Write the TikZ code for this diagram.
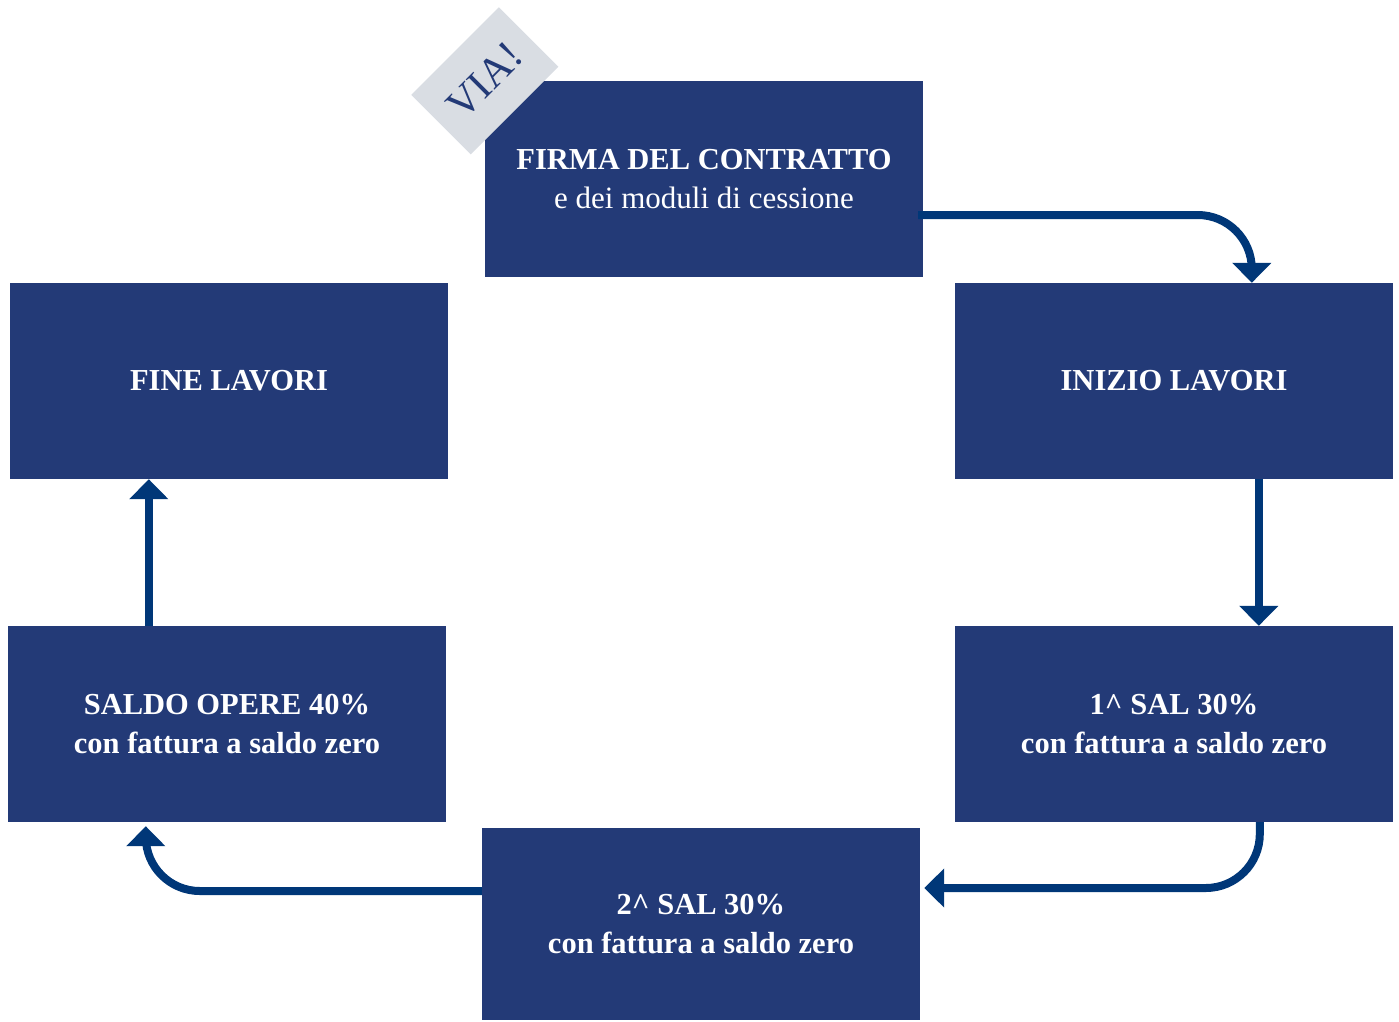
\documentclass[tikz,border=0pt]{standalone}
\usepackage{fontspec}
\setmainfont{Liberation Serif}
\usetikzlibrary{calc,arrows.meta}
\definecolor{boxblue}{HTML}{233A77}
\definecolor{arrblue}{HTML}{003778}
\definecolor{taggray}{HTML}{D9DDE3}
\tikzset{
  stepbox/.style={rectangle, fill=boxblue, text=white, minimum width=438pt, minimum height=196pt, inner sep=0pt, align=center, font=\fontsize{30.5pt}{39pt}\selectfont\bfseries},
  arr/.style={draw=arrblue, line width=8pt, rounded corners=54pt, -{Triangle[width=38pt,length=20pt]}},
}
\begin{document}
\begin{tikzpicture}[x=1pt,y=-1pt]
\useasboundingbox (0,0) rectangle (1399,1021);
\node[stepbox] (top) at (704,179) {FIRMA DEL CONTRATTO\\{\mdseries\fontsize{31pt}{39pt}\selectfont e dei moduli di cessione}};
\node[stepbox] (r1) at (1174,381) {INIZIO LAVORI};
\node[stepbox] (r2) at (1174,724) {1\^{} SAL 30\%\\con fattura a saldo zero};
\node[stepbox, minimum height=192pt] (bot) at (701,924) {2\^{} SAL 30\%\\con fattura a saldo zero};
\node[stepbox] (l2) at (227,724) {SALDO OPERE 40\%\\con fattura a saldo zero};
\node[stepbox] (l1) at (229,381) {FINE LAVORI};
% tag on top of the first box
\node[rectangle, fill=taggray, minimum width=124pt, minimum height=84pt, inner sep=0pt, rotate=45, text=boxblue, font=\fontsize{42pt}{42pt}\selectfont] (tag) at (top.north west) {VIA!};
% arrows
\draw[arr] ($(top.east)+(-5,36)$) -| ($(r1.north west)+(297,0)$);
\draw[arr] ($(r1.south west)+(304,0)$) -- ($(r2.north west)+(304,0)$);
\draw[arr] ($(r2.south west)+(305,0)$) |- ($(bot.east)+(4,-36)$);
\draw[arr] ($(bot.west)+(0,-33)$) -| ($(l2.south west)+(138,4)$);
\draw[arr] ($(l2.north west)+(141,0)$) -- ($(l1.south west)+(139,0)$);
\end{tikzpicture}
\end{document}
